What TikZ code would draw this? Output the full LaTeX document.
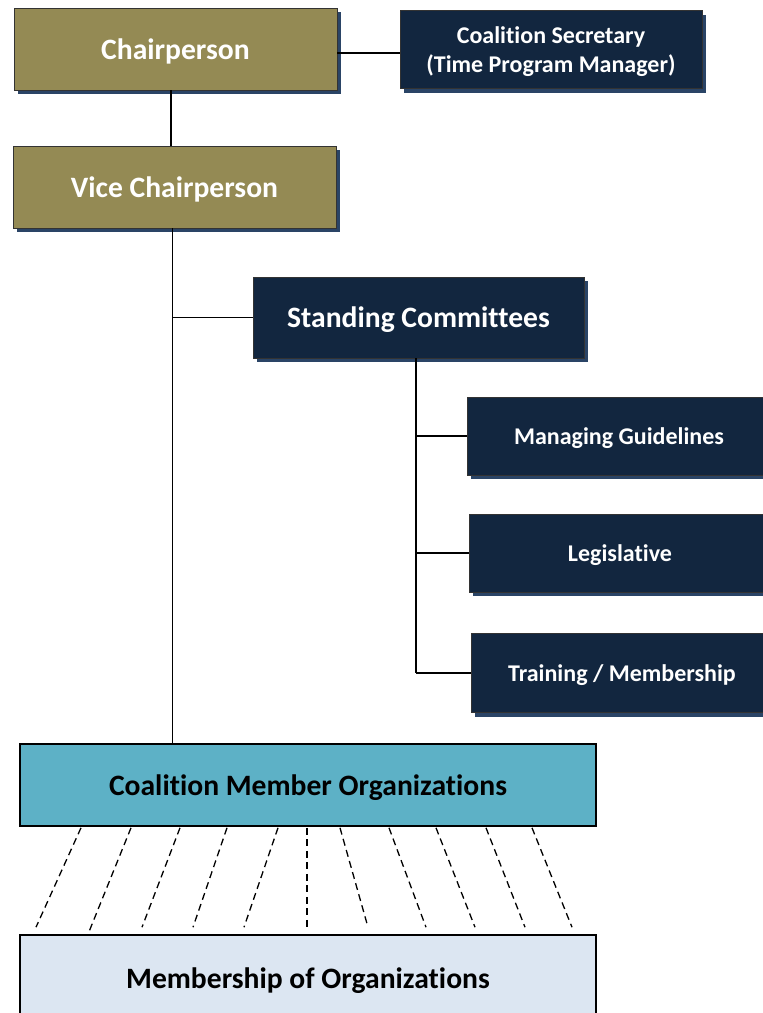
\documentclass[tikz,border=0pt]{standalone}
\usepackage{fontspec}
\setmainfont{Carlito}[Ligatures={NoCommon}]
\usetikzlibrary{shadows,calc}
\definecolor{khaki}{HTML}{948A54}
\definecolor{navy}{HTML}{12263F}
\definecolor{shade}{HTML}{2A4466}
\definecolor{teal}{HTML}{5DB1C6}
\definecolor{pale}{HTML}{DCE6F2}
\tikzset{
  box/.style={draw=black!80, line width=0.8pt, inner sep=0pt, align=center,
    drop shadow={shadow xshift=4pt, shadow yshift=-4pt, fill=shade, opacity=1}},
  bigfont/.style={font=\bfseries\fontsize{29.6}{34}\selectfont, text height=26pt, text depth=6pt},
  smallfont/.style={font=\bfseries\fontsize{24}{29}\selectfont, text height=21pt, text depth=5pt},
  twoline/.style={font=\bfseries\fontsize{24}{29}\selectfont},
  goldbox/.style={box, fill=khaki, text=white, bigfont},
  navybox/.style={box, fill=navy, text=white},
  orgbox/.style={draw=black, line width=1.6pt, inner sep=0pt, text=black, bigfont},
  link/.style={draw=black, line width=1.8pt},
  dashlink/.style={draw=black, line width=1.3pt, dash pattern=on 7pt off 4.5pt}
}
\begin{document}
\begin{tikzpicture}[x=1pt,y=-1pt]
\useasboundingbox (0,0) rectangle (763,1013);
\node[goldbox, minimum width=323pt, minimum height=82pt] (chair) at (175.5,49) {Chairperson};
\node[navybox, twoline, minimum width=302pt, minimum height=78pt] (sec) at (551,49.5) {\rule{0pt}{22pt}Coalition Secretary\\(Time Program Manager)};
\node[goldbox, minimum width=323pt, minimum height=82pt] (vice) at (174.5,187) {Vice Chairperson};
\node[navybox, bigfont, minimum width=331pt, minimum height=81pt] (stand) at (418.5,317.5) {Standing Committees};
\node[navybox, smallfont, minimum width=304pt, minimum height=78pt] (mg) at (619,436) {Managing Guidelines};
\node[navybox, smallfont, minimum width=302pt, minimum height=78pt] (leg) at (620,553) {Legislative};
\node[navybox, smallfont, minimum width=302pt, minimum height=79pt] (tm) at (622,673) {Training / Membership};
\node[orgbox, fill=teal, minimum width=576pt, minimum height=82pt] (cmo) at (308,785) {Coalition Member Organizations};
\node[orgbox, fill=pale, minimum width=576pt, minimum height=86pt] (mem) at (308,978) {Membership of Organizations};
% connectors
\draw[link] ([yshift=-4pt]chair.east) -- ([yshift=-4pt]chair.east -| sec.west);
\draw[link] ([xshift=-4.5pt]chair.south) -- ([xshift=-4.5pt]chair.south |- vice.north);
\coordinate (trunk) at ([xshift=-2pt]vice.south);
\draw[link] (trunk) -- (trunk |- cmo.north);
\draw[link] (trunk |- stand.west) -- (stand.west);
\coordinate (sub) at ([xshift=-2.5pt]stand.south);
\draw[link] (sub) -- (sub |- tm.west);
\draw[link] (sub |- mg.west) -- (mg.west);
\draw[link] (sub |- leg.west) -- (leg.west);
\draw[link] (sub |- tm.west) -- (tm.west);
\foreach \a/\b/\s in {81/36/7, 131/88/0, 180/142/7, 227/193/7, 278/244/7, 307/307/7, 340/368/7, 389/426/7, 436/475/7, 486/525/7, 532/572/7}
  \draw[dashlink] ($(cmo.south -| \a,0)+(0,1)$) -- ($(mem.north -| \b,0)+(0,-\s)$);
\end{tikzpicture}
\end{document}
